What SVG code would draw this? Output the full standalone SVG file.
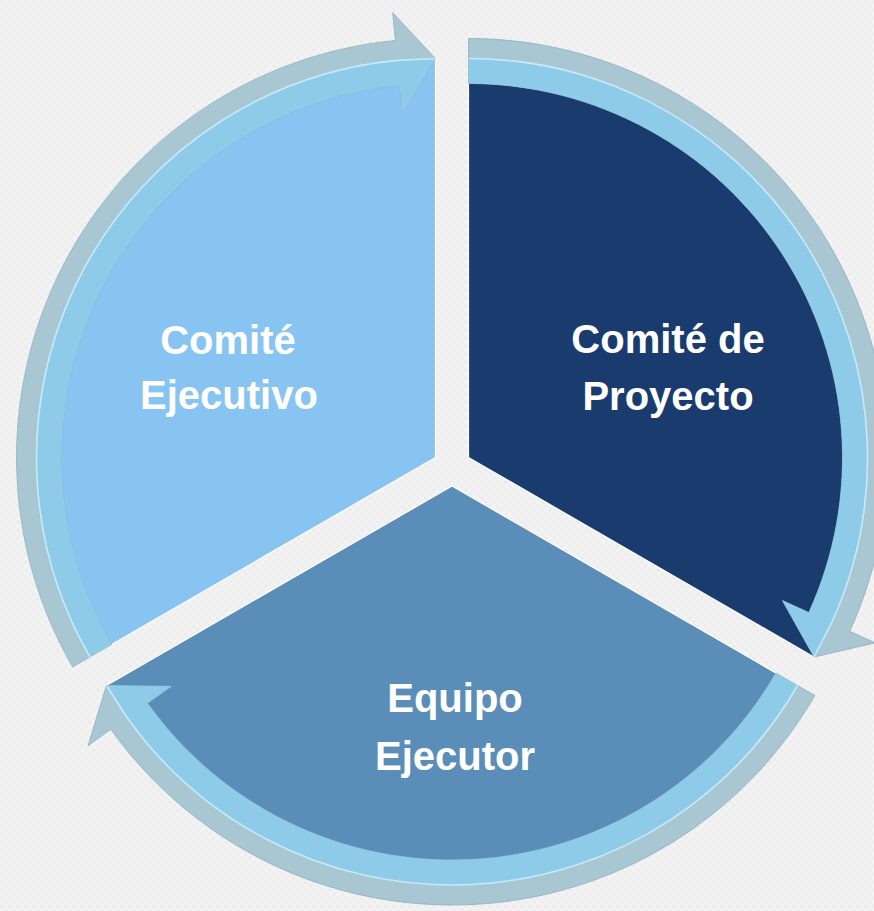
<svg xmlns="http://www.w3.org/2000/svg" xmlns:xlink="http://www.w3.org/1999/xlink" width="874" height="911" viewBox="0 0 874 911">
  <style>
    .lbl { font-family: "Liberation Sans", Arial, sans-serif; font-weight: bold; font-size: 40px; fill: #ffffff; text-anchor: middle; }
    .edge { stroke: #ffffff; stroke-width: 1.2; }
    .grey { fill: #a8c7d2; stroke: #93b3bf; stroke-width: 0.8; }
    .face { fill: #8ecbe8; }
    .hl { fill: none; stroke: #c4eafb; stroke-width: 1.6; }
  </style>
  <defs>
    <pattern id="tex" width="8" height="8" patternUnits="userSpaceOnUse">
      <rect width="8" height="8" fill="#f2f2f2"/>
      <circle cx="2" cy="2" r="1.6" fill="#eaeaea"/>
      <circle cx="6" cy="6" r="1.6" fill="#ececec"/>
    </pattern>
    <path id="sector" d="M0,0 L-345.54,199.5 A399,399 0 0 1 0,-399 Z"/>
    <path id="arrowFull" d="M-362.86,209.5 A419,419 0 0 1 -40.16,-417.07 L-42.84,-444.94 L0,-399 L-33.07,-343.41 L-35.85,-372.28 A374,374 0 0 0 -323.89,187 Z"/>
    <path id="arrowFace" d="M-345.54,199.5 A399,399 0 0 1 -38.24,-397.16 L0,-399 L-33.07,-343.41 L-35.85,-372.28 A374,374 0 0 0 -323.89,187 Z"/>
    <path id="arrowHl" d="M-345.54,199.5 A399,399 0 0 1 -38.24,-397.16 L0,-399"/>
  </defs>

  <rect width="874" height="911" fill="url(#tex)"/>

  <g id="node-comite-ejecutivo">
    <use xlink:href="#sector" href="#sector" transform="translate(435.5,457.5)" fill="#88c4f1" class="edge"/>
    <text class="lbl" x="228" y="354">Comité</text>
    <text class="lbl" x="229" y="409">Ejecutivo</text>
  </g>

  <g id="node-comite-proyecto">
    <use xlink:href="#sector" href="#sector" transform="translate(468.5,457.5) rotate(120)" fill="#1a3b6d" class="edge"/>
    <text class="lbl" x="668" y="353">Comité de</text>
    <text class="lbl" x="668" y="410">Proyecto</text>
  </g>

  <g id="node-equipo-ejecutor">
    <use xlink:href="#sector" href="#sector" transform="translate(452,486) rotate(240)" fill="#5a8eb9" class="edge"/>
    <text class="lbl" x="455" y="712">Equipo</text>
    <text class="lbl" x="455" y="770">Ejecutor</text>
  </g>

  <g id="connectors">
    <g transform="translate(435.5,457.5)">
      <use xlink:href="#arrowFull" href="#arrowFull" class="grey"/>
      <use xlink:href="#arrowFace" href="#arrowFace" class="face"/>
      <use xlink:href="#arrowHl" href="#arrowHl" class="hl"/>
    </g>
    <g transform="translate(468.5,457.5) rotate(120)">
      <use xlink:href="#arrowFull" href="#arrowFull" class="grey"/>
      <use xlink:href="#arrowFace" href="#arrowFace" class="face"/>
      <use xlink:href="#arrowHl" href="#arrowHl" class="hl"/>
    </g>
    <g transform="translate(452,486) rotate(240)">
      <use xlink:href="#arrowFull" href="#arrowFull" class="grey"/>
      <use xlink:href="#arrowFace" href="#arrowFace" class="face"/>
      <use xlink:href="#arrowHl" href="#arrowHl" class="hl"/>
    </g>
  </g>
</svg>
